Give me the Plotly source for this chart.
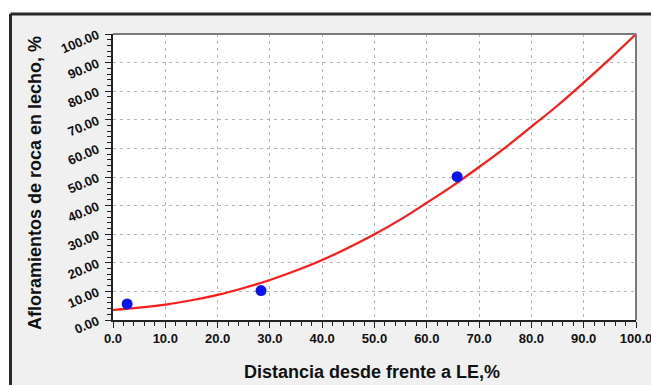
import plotly.graph_objects as go

# Observed points
obs_x = [2.7, 28.3, 65.8]
obs_y = [5.6, 10.3, 50.1]

# Fitted trend curve
fit_x = [0, 5, 10, 15, 20, 25, 30, 35, 40, 45, 50, 55, 60, 65, 70, 75, 80, 85, 90, 95, 100]
fit_y = [3.5, 4.3, 5.4, 6.9, 8.8, 11.2, 14.0, 17.3, 21.0, 25.3, 30.0, 35.2, 41.0, 47.0, 53.5, 60.3, 67.6, 75.0, 83.0, 91.3, 100.0]

W, H = 651, 385
L, R, T, B = 113, 636, 34, 320  # plot area in pixels


def px(x):
    return (x - L) / (R - L)


def py(y):
    return (B - y) / (B - T)


FONT = "Liberation Sans, Arial, sans-serif"

fig = go.Figure()
fig.add_trace(go.Scatter(x=fit_x, y=fit_y, mode="lines",
                         line=dict(color="#ff1a1a", width=2.2, shape="spline"),
                         showlegend=False, hoverinfo="skip"))
fig.add_trace(go.Scatter(x=obs_x, y=obs_y, mode="markers",
                         marker=dict(color="#0a14f0", size=11),
                         showlegend=False))

axis_common = dict(
    showgrid=True, gridcolor="#b4b4b4", griddash="3px,4px", gridwidth=1,
    showline=True, linecolor="#222", linewidth=1.5,
    ticks="outside", ticklen=6, tickcolor="#222", tickwidth=1.3,
    minor=dict(ticks="outside", dtick=2, ticklen=4, tickcolor="#222", showgrid=False),
    zeroline=False, dtick=10, tick0=0, ticklabeloverflow="allow", automargin=False,
)

fig.update_xaxes(range=[0, 100], tickformat=".1f",
                 tickfont=dict(family=FONT, size=13, color="#111", weight="bold"),
                 **axis_common)
fig.update_yaxes(range=[0, 100], tickformat=".2f", tickangle=-23, ticklabelstandoff=5,
                 tickfont=dict(family=FONT, size=13, color="#111", weight="bold"),
                 **axis_common)

shapes = [
    # white surround outside the panel frame
    dict(type="rect", xref="paper", yref="paper", x0=px(-5), x1=px(W + 5), y0=py(13), y1=py(-5),
         fillcolor="white", line=dict(width=0), layer="above"),
    dict(type="rect", xref="paper", yref="paper", x0=px(-5), x1=px(9), y0=py(H + 5), y1=py(-5),
         fillcolor="white", line=dict(width=0), layer="above"),
    # panel frame
    dict(type="line", xref="paper", yref="paper", x0=px(10.5), x1=px(W + 5), y0=py(14), y1=py(14),
         line=dict(color="#2a2a2a", width=3), layer="above"),
    dict(type="line", xref="paper", yref="paper", x0=px(10.5), x1=px(10.5), y0=py(14), y1=py(H + 5),
         line=dict(color="#2a2a2a", width=3), layer="above"),
    # plot area border on top and right
    dict(type="line", xref="paper", yref="paper", x0=0, x1=1, y0=1, y1=1,
         line=dict(color="#7a7a7a", width=2), layer="above"),
    dict(type="line", xref="paper", yref="paper", x0=1, x1=1, y0=0, y1=1,
         line=dict(color="#7a7a7a", width=2), layer="above"),
]

annotations = [
    dict(text="Distancia desde frente a LE,%", xref="paper", yref="paper",
         x=px(372), y=py(372), showarrow=False, xanchor="center", yanchor="middle",
         font=dict(family=FONT, size=18, color="#111", weight="bold")),
    dict(text="Afloramientos de roca en lecho, %", xref="paper", yref="paper",
         x=px(35), y=py(183), showarrow=False, xanchor="center", yanchor="middle",
         textangle=-90,
         font=dict(family=FONT, size=18, color="#111", weight="bold")),
]

fig.update_layout(
    width=W, height=H,
    margin=dict(l=L, r=W - R, t=T, b=H - B, autoexpand=False),
    paper_bgcolor="#f0f0f0", plot_bgcolor="white",
    shapes=shapes, annotations=annotations,
    showlegend=False,
)

fig.write_html("out.html")
